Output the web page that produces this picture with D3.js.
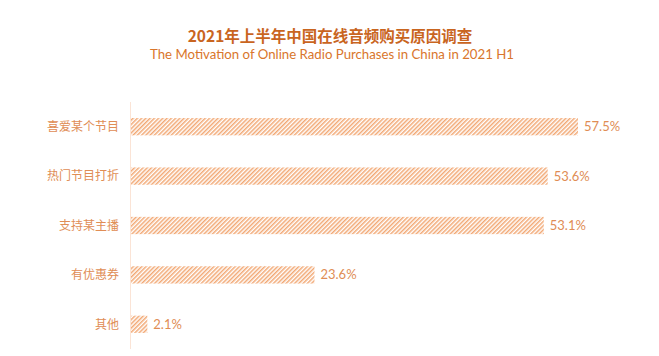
<!DOCTYPE html>
<html><head><meta charset="utf-8">
<script src="https://cdn.jsdelivr.net/npm/d3@7"></script>
<style>body{margin:0;background:#fff}svg{display:block}</style>
</head><body>
<svg id="c" width="659" height="356"></svg>
<script>
const titleCN = "2021年上半年中国在线音频购买原因调查";
const titleEN = "The Motivation of Online Radio Purchases in China in 2021 H1";
const categories = ["喜爱某个节目","热门节目打折","支持某主播","有优惠券","其他"];
const values = [57.5, 53.6, 53.1, 23.6, 2.1];

const svg = d3.select("#c");
const defs = svg.append("defs");
const pat = defs.append("pattern").attr("id","hatch").attr("patternUnits","userSpaceOnUse")
  .attr("width",3).attr("height",3).attr("patternTransform","rotate(45)");
pat.append("rect").attr("width",3).attr("height",3).attr("fill","#fff");
pat.append("rect").attr("width",1.5).attr("height",3).attr("fill","#f2a874");

const cjk = "'Noto Sans CJK SC','Noto Sans',sans-serif";
svg.append("text").attr("x",330).attr("y",42).attr("text-anchor","middle")
  .attr("font-family",cjk).attr("font-weight","bold").attr("font-size",15.5)
  .attr("fill","#c9651f").text(titleCN);
const sub = svg.append("text").attr("x",332).attr("y",59).attr("text-anchor","middle")
  .attr("font-family","Lato,'Noto Sans',sans-serif").attr("font-size",13.5)
  .attr("fill","#d9762c").attr("textLength",364).attr("lengthAdjust","spacingAndGlyphs").text(titleEN);

const x = d3.scaleLinear().domain([0, 57.5]).range([131, 578]);
const y = d3.scaleBand().domain(categories).range([102, 349]).paddingInner(0.65).paddingOuter(0.325);

svg.append("line").attr("x1",130.5).attr("x2",130.5).attr("y1",102).attr("y2",349)
  .attr("stroke","#fbe4d6").attr("stroke-width",1);

svg.selectAll("rect.bar").data(values).join("rect").attr("class","bar")
  .attr("x", x(0)).attr("y",(d,i)=>y(categories[i]))
  .attr("width", d=>x(d)-x(0)).attr("height", y.bandwidth())
  .attr("fill","url(#hatch)");

svg.selectAll("text.cat").data(categories).join("text").attr("class","cat")
  .attr("x",119).attr("y",d=>y(d)+y.bandwidth()/2).attr("dy","0.35em")
  .attr("text-anchor","end").attr("font-family",cjk).attr("font-size",12)
  .attr("fill","#e08d55").text(d=>d);

svg.selectAll("text.val").data(values).join("text").attr("class","val")
  .attr("x",d=>x(d)+6).attr("y",(d,i)=>y(categories[i])+y.bandwidth()/2).attr("dy","0.35em")
  .attr("font-family","Lato,'Noto Sans',sans-serif").attr("font-size",13)
  .attr("fill","#e08d55").text(d=>d.toFixed(1)+"%");
</script>
</body></html>
